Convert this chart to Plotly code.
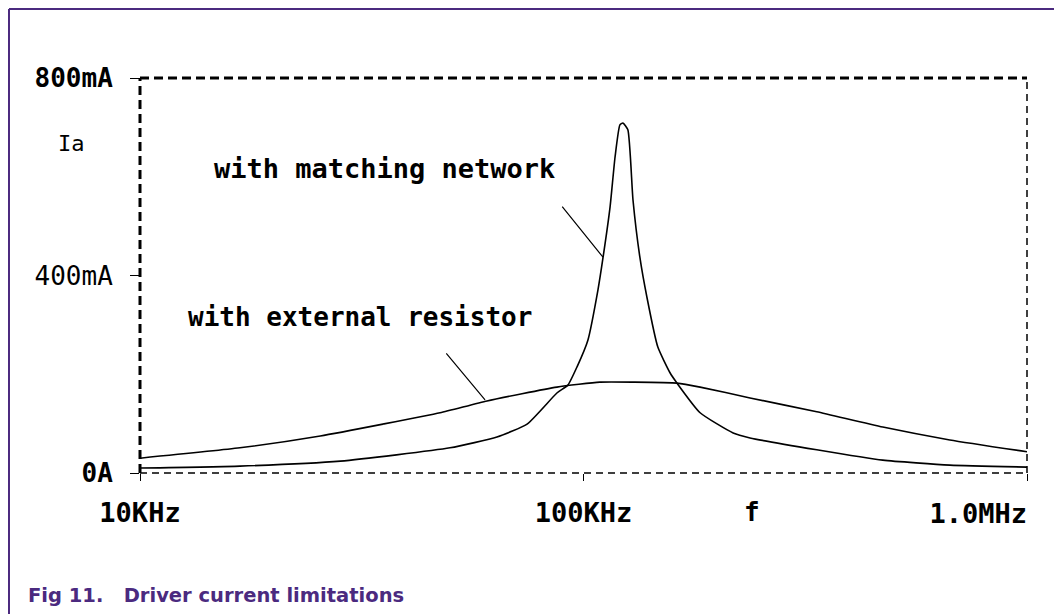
import plotly.graph_objects as go

# ---- data ----
freq_match_khz = [10, 16.8, 28.3, 50, 63.8, 74.6, 87.1, 92.2, 96.7, 102.3, 107.8, 110.7,
                  114.8, 117.8, 120.8, 122.7, 125.9, 129.3, 134.0, 139.0, 147.1, 156.7,
                  162.5, 183.2, 217.5, 237.4, 335.7, 473, 670, 1000]
ia_match_ma = [10, 14, 24, 51, 73, 99, 162, 178, 215, 269, 371, 437,
               539, 640, 705, 709, 695, 553, 437, 356, 255, 203,
               182, 122, 81, 71, 47, 26, 16, 12]

freq_ext_khz = [10, 16.8, 25.5, 35.3, 47.5, 60.6, 87.1, 108.9, 129.3, 162.5, 183.2,
                237.4, 335.7, 473, 670, 1000]
ia_ext_ma = [30, 51, 75, 99, 122, 146, 174, 184, 184, 182, 174,
             152, 124, 93, 67, 43]

x_tick_vals = [10, 100, 1000]
x_tick_text = ["<b>10KHz</b>", "<b>100KHz</b>", ""]
x_end_tick_vals = [1000]
x_end_tick_text = ["<b>1.0MHz</b>"]
y_tick_vals = [0, 400, 800]
y_tick_text = ["<b>0A</b>", "400mA", "<b>800mA</b>"]

PIX = "DejaVu Sans Mono"
PURPLE = "#4B2A7F"
X_RANGE = [1, 3]  # log10 of 10 kHz .. 1000 kHz

fig = go.Figure()
fig.add_trace(go.Scatter(x=freq_match_khz, y=ia_match_ma, mode="lines",
                         line=dict(color="black", width=1.6, shape="spline", smoothing=0.5),
                         name="with matching network", showlegend=False))
fig.add_trace(go.Scatter(x=freq_ext_khz, y=ia_ext_ma, mode="lines", xaxis="x2",
                         line=dict(color="black", width=1.6, shape="spline", smoothing=0.5),
                         name="with external resistor", showlegend=False))

# page body has an 8px margin, so the figure is 8px smaller than the window
fig.update_layout(
    width=1054, height=606,
    margin=dict(l=132, r=35, t=70, b=141, autoexpand=False),
    paper_bgcolor="white", plot_bgcolor="white",
    showlegend=False,
    xaxis=dict(type="log", range=X_RANGE, tickvals=x_tick_vals, ticktext=x_tick_text,
               ticks="outside", ticklen=7, tickwidth=1.2, tickcolor="black",
               showgrid=False, zeroline=False, showline=False,
               tickfont=dict(family=PIX, size=27, color="black"),
               ticklabelstandoff=9),
    xaxis2=dict(type="log", range=X_RANGE, overlaying="x", side="bottom",
                tickvals=x_end_tick_vals, ticktext=x_end_tick_text,
                ticks="", showgrid=False, zeroline=False, showline=False,
                ticklabelposition="outside left",
                tickfont=dict(family=PIX, size=27, color="black"),
                ticklabelstandoff=22),
    yaxis=dict(range=[0, 800], tickvals=y_tick_vals, ticktext=y_tick_text,
               ticks="outside", ticklen=9, tickwidth=1.2, tickcolor="black",
               showgrid=False, zeroline=False, showline=False,
               tickfont=dict(family=PIX, size=26, color="black"),
               ticklabelstandoff=12),
)

# dashed plot frame
frame = [
    dict(x0=0, x1=1, y0=1, y1=1, w=3, d="9px,5px"),
    dict(x0=0, x1=0, y0=0, y1=1, w=3, d="9px,5px"),
    dict(x0=0, x1=1, y0=0, y1=0, w=1.5, d="7px,5px"),
    dict(x0=1, x1=1, y0=0, y1=1, w=1.5, d="7px,5px"),
]
for f in frame:
    fig.add_shape(type="line", xref="paper", yref="paper",
                  x0=f["x0"], x1=f["x1"], y0=f["y0"], y1=f["y1"],
                  line=dict(color="black", width=f["w"], dash=f["d"]))

# outer figure frame (purple, top + left)
fig.add_shape(type="line", xref="paper", yref="paper", x0=-0.1477, x1=1.04,
              y0=1.1747, y1=1.1747, line=dict(color=PURPLE, width=2))
fig.add_shape(type="line", xref="paper", yref="paper", x0=-0.1477, x1=-0.1477,
              y0=1.1747, y1=-0.36, line=dict(color=PURPLE, width=2))

# labels
fig.add_annotation(text="Ia", xref="paper", yref="paper", x=-0.095, y=0.835,
                   xanchor="left", yanchor="middle", showarrow=False,
                   font=dict(family=PIX, size=22, color="black"))
fig.add_annotation(text="<b>f</b>", xref="paper", yref="paper", x=0.69, y=-0.098,
                   xanchor="center", yanchor="middle", showarrow=False,
                   font=dict(family=PIX, size=26, color="black"))
fig.add_annotation(text="<b>with matching network</b>", xref="paper", yref="paper",
                   x=0.081, y=0.772, xanchor="left", yanchor="middle", showarrow=False,
                   font=dict(family=PIX, size=27, color="black"))
fig.add_annotation(text="<b>with external resistor</b>", xref="paper", yref="paper",
                   x=0.052, y=0.395, xanchor="left", yanchor="middle", showarrow=False,
                   font=dict(family=PIX, size=26, color="black"))

# leader lines from text to curves
fig.add_annotation(x=2.044, y=437, xref="x", yref="y", text="", showarrow=True,
                   arrowhead=0, arrowwidth=1.2, arrowcolor="black", ax=-42, ay=-52,
                   standoff=0, startstandoff=0)
fig.add_annotation(x=1.778, y=148, xref="x", yref="y", text="", showarrow=True,
                   arrowhead=0, arrowwidth=1.2, arrowcolor="black", ax=-40, ay=-48,
                   standoff=0, startstandoff=0)

# caption
fig.add_annotation(text="<b>Fig 11.&nbsp;&nbsp;&nbsp;Driver current limitations</b>",
                   xref="paper", yref="paper", x=-0.128, y=-0.311,
                   xanchor="left", yanchor="middle", showarrow=False,
                   font=dict(family="DejaVu Sans", size=19.5, color=PURPLE))

fig.write_html("out.html")
